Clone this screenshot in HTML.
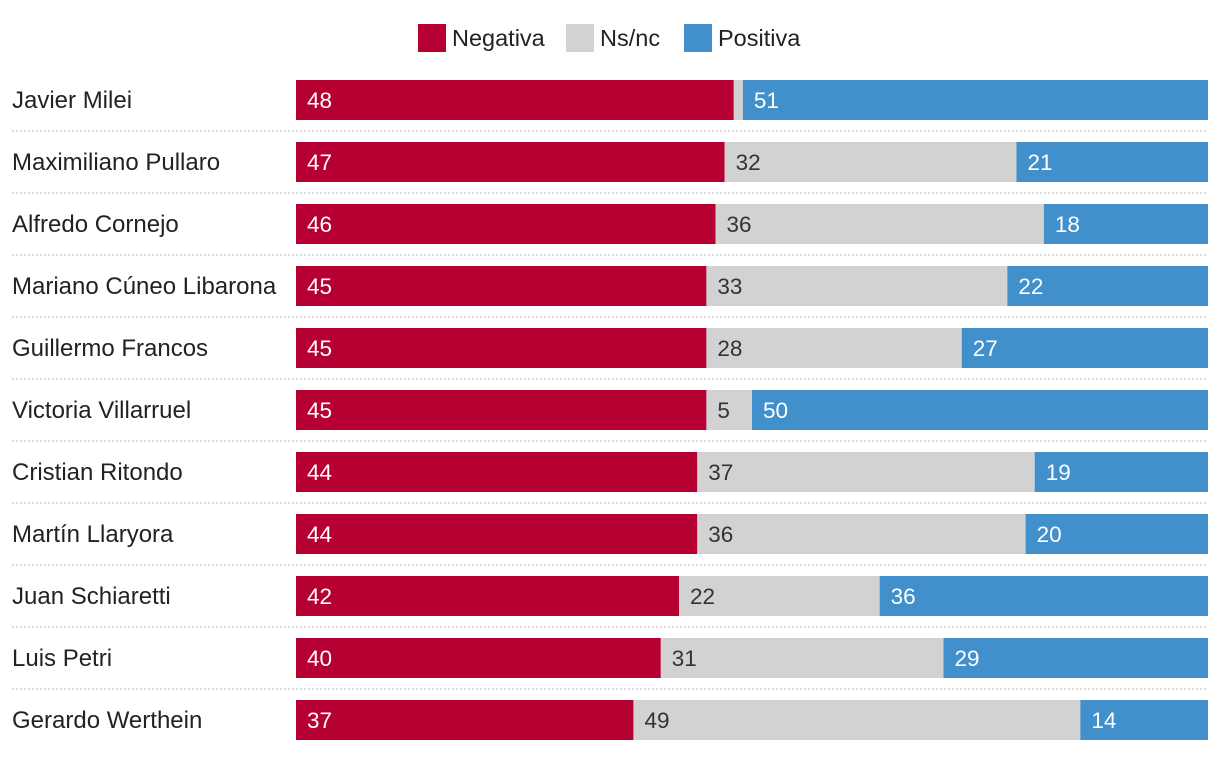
<!DOCTYPE html>
<html><head><meta charset="utf-8"><style>
body{margin:0;background:#fff;}
svg text{font-family:"Liberation Sans",sans-serif;}
</style></head><body>
<svg width="1220" height="760">
<g>
<rect x="418" y="24" width="28" height="28" fill="#b60032"/>
<text x="452" y="46" font-size="23.5" fill="#222">Negativa</text>
<rect x="566" y="24" width="28" height="28" fill="#d2d2d2"/>
<text x="600" y="46" font-size="23.5" fill="#222">Ns/nc</text>
<rect x="684" y="24" width="28" height="28" fill="#418fcb"/>
<text x="718" y="46" font-size="23.5" fill="#222">Positiva</text>
</g>
<g id="bars"></g>
</svg>
<script>
const names=["Javier Milei","Maximiliano Pullaro","Alfredo Cornejo","Mariano Cúneo Libarona","Guillermo Francos","Victoria Villarruel","Cristian Ritondo","Martín Llaryora","Juan Schiaretti","Luis Petri","Gerardo Werthein"];
const negativa=[48,47,46,45,45,45,44,44,42,40,37];
const nsnc=[1,32,36,33,28,5,37,36,22,31,49];
const positiva=[51,21,18,22,27,50,19,20,36,29,14];
const X0=296,W=912,Y0=80,H=40,STEP=62;
const xs=v=>v/100*W;
const g=document.getElementById('bars');
const NS='http://www.w3.org/2000/svg';
function mk(t,a){const e=document.createElementNS(NS,t);for(const k in a)e.setAttribute(k,a[k]);return e;}
names.forEach((n,i)=>{
  const y=Y0+i*STEP;
  const lab=mk('text',{x:12,y:y+28,'font-size':24,fill:'#222'});
  lab.textContent=n;
  
  
  g.appendChild(lab);
  if(i<names.length-1){
    const ln=mk('line',{x1:12,x2:1208,y1:y+51,y2:y+51,stroke:'#bbb','stroke-width':1,'stroke-dasharray':'2,2'});
    
    
    g.appendChild(ln);
  }
  const segs=[[negativa[i],'#b60032','#fff','bar-negativa'],[nsnc[i],'#d2d2d2','#333','bar-nsnc'],[positiva[i],'#418fcb','#fff','bar-positiva']];
  let x=X0;
  segs.forEach(([v,c,tc,nm])=>{
    const w=xs(v);
    const r=mk('rect',{x:x,y:y,width:w,height:H,fill:c});
    
    
    g.appendChild(r);
    if(v>=3){
      const t=mk('text',{x:x+11,y:y+28,'font-size':22.5,fill:tc});
      t.textContent=v;
      
      
      g.appendChild(t);
    }
    x+=w;
  });
});
</script>
</body></html>
